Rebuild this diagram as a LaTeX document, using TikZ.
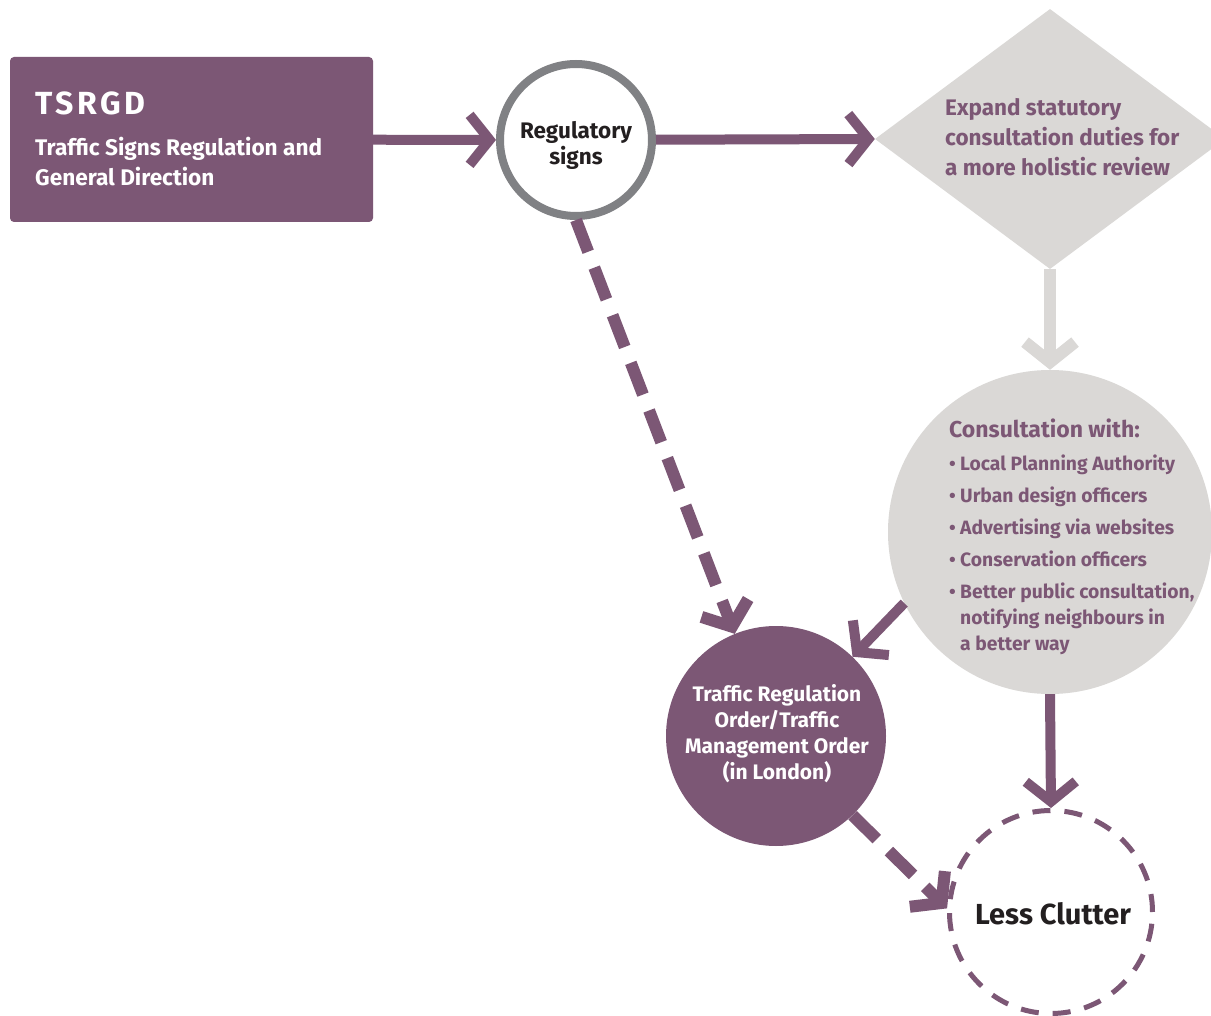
\documentclass[tikz,border=0pt]{standalone}
\usepackage{fontspec}
\setmainfont{Fira Sans}
\usetikzlibrary{arrows.meta,shapes.geometric}
\definecolor{plum}{HTML}{7C5775}
\definecolor{ring}{HTML}{808184}
\definecolor{mist}{HTML}{DAD8D6}
\definecolor{ink}{HTML}{231F20}
\newcommand{\itembullet}{\makebox[11pt][l]{•}}
\newcommand{\itemgap}{\hspace*{11pt}}
\begin{document}
\begin{tikzpicture}[x=1pt,y=-1pt,
  tip/.style={-{Straight Barb[sharp,length=20pt,width=50pt]}},
  flow/.style={tip,draw=plum,line width=10pt},
  flowgray/.style={tip,draw=mist,line width=12pt},
  dashflow/.style={tip,draw=plum,line width=12pt,dash pattern=on 34pt off 17pt},
  txt/.style={inner sep=0pt,font=\bfseries},
]
\clip (0,0) rectangle (1211,1016);
\fill[white] (0,0) rectangle (1211,1016);

% boxes and circles
\node[fill=plum,rounded corners=4pt,minimum width=363pt,minimum height=165pt,inner sep=0pt] (tsr) at (191.5,139.5) {};
\node[circle,draw=ring,line width=8pt,fill=white,minimum size=152pt,inner sep=0pt] (reg) at (576,140) {};
\node[diamond,fill=mist,minimum width=350pt,minimum height=260pt,inner sep=0pt] (exp) at (1050,139) {};
\node[circle,fill=mist,minimum size=324pt,inner sep=0pt] (cons) at (1050,532) {};
\node[circle,fill=plum,minimum size=220pt,inner sep=0pt] (tro) at (776,736) {};
\node[circle,draw=plum,line width=5pt,dash pattern=on 18pt off 14pt,minimum size=203pt,inner sep=0pt] (less) at (1051,912) {};

% texts (multi-line nodes are anchored at the baseline of their last line)
\node[txt,text=white,anchor=base west,font=\bfseries\fontsize{32}{34}\selectfont\addfontfeatures{LetterSpace=11}] (t1) at (35,115) {TSRGD};
\node[txt,text=white,anchor=base west,align=left,font=\bfseries\fontsize{22.6}{30}\selectfont] (t2) at (35,186) {Traffic Signs Regulation and\\General Direction};
\node[txt,text=ink,align=center,font=\bfseries\fontsize{22.5}{26}\selectfont] (t3) at (576,145) {Regulatory\\signs};
\node[txt,text=plum,anchor=base west,align=left,font=\bfseries\fontsize{22.5}{30}\selectfont] (t4) at (945,176) {Expand statutory\\consultation duties for\\a more holistic review};
\node[txt,text=plum,anchor=base west,font=\bfseries\fontsize{23}{26}\selectfont] (t5) at (949,437) {Consultation with:};
\node[txt,text=plum,anchor=base west,align=left,font=\bfseries\fontsize{19.3}{26}\selectfont] (t6) at (949,650) {%
\itembullet Local Planning Authority\\[6pt]
\itembullet Urban design officers\\[6pt]
\itembullet Advertising via websites\\[6pt]
\itembullet Conservation officers\\[6pt]
\itembullet Better public consultation,\\
\itemgap notifying neighbours in\\
\itemgap a better way};
\node[txt,text=white,align=center,font=\bfseries\fontsize{21}{26}\selectfont] (t7) at (777,734) {Traffic Regulation\\Order/Traffic\\Management Order\\(in London)};
\node[txt,text=ink,font=\bfseries\fontsize{29}{32}\selectfont] (t8) at (1053,914) {Less Clutter};

% connectors
\draw[flow] (tsr) -- (reg);
\draw[flow] (reg) -- (exp.west);
\draw[flowgray] (exp.south) -- (cons.north);
\draw[dashflow] (reg.south) -- (tro.112);
\draw[flow] (cons.206) -- (tro.46);
\draw[flow] (cons.south) -- (less.north);
\draw[dashflow] (tro.314) -- (less.178);
\end{tikzpicture}
\end{document}
